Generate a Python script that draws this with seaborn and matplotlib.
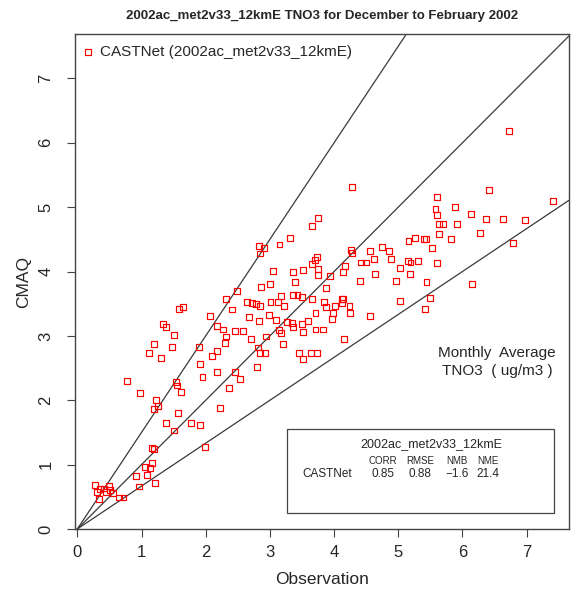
import matplotlib
matplotlib.use("Agg")
import matplotlib.pyplot as plt
import seaborn as sns
import pandas as pd
from matplotlib.patches import Rectangle

obs = [6.72, 4.28, 6.42, 7.41, 5.61, 5.58, 5.89, 5.60, 6.13, 5.64, 5.70, 5.91, 6.37, 6.63,
       6.98, 6.28, 5.64, 5.82, 6.79, 5.16, 5.26, 5.40, 5.43, 5.52, 4.74, 4.56, 4.85, 4.27,
       4.28, 4.62, 4.89, 4.42, 4.50, 5.15, 5.19, 5.31, 5.03, 5.61, 4.17, 4.14, 4.64, 5.18,
       4.40, 4.97, 5.44, 6.15, 3.93, 3.88, 5.50, 5.03, 4.12, 4.14, 3.85, 3.88, 4.02, 4.24,
       5.41, 4.13, 4.25, 3.99, 3.97, 4.56, 3.83, 4.15,
       3.75, 3.66, 3.31, 2.83, 2.91, 2.85, 3.15, 3.74, 3.70, 3.66, 3.75, 3.52, 3.05, 3.36,
       3.75, 3.39, 3.00, 2.86, 2.49, 3.36, 3.43, 3.50, 3.18, 2.31, 3.66, 2.65, 2.72, 2.78,
       2.85, 3.01, 3.12, 3.22, 1.64, 1.58, 2.41,
       2.07, 2.67, 2.83, 2.98, 3.10, 3.27, 3.34, 3.36, 3.50, 3.60, 3.71, 3.52, 3.71, 1.33,
       1.38, 1.50, 2.18, 2.27, 2.45, 2.58, 2.31, 2.30, 2.71, 3.14, 3.18, 2.94, 3.21, 1.19,
       1.48, 1.90, 1.11, 1.31, 2.17, 2.10, 2.81, 2.85, 2.92, 3.46, 3.51, 3.64, 3.73, 1.91,
       2.80, 0.77, 1.54, 1.56, 2.17, 1.95, 2.45, 2.53, 2.36, 0.97, 1.61, 1.23, 1.26, 1.19,
       2.22, 1.57, 1.38, 1.51, 1.77, 1.91, 1.99, 1.16, 1.20, 1.17, 1.06, 1.13, 1.08, 0.91,
       1.21, 0.96,
       0.28, 0.30, 0.35, 0.41, 0.45, 0.50, 0.51, 0.55, 0.34, 0.65, 0.72]
cmaq = [6.19, 5.31, 5.27, 5.10, 5.16, 4.97, 5.00, 4.88, 4.89, 4.74, 4.74, 4.74, 4.81, 4.81,
        4.80, 4.60, 4.58, 4.50, 4.45, 4.47, 4.52, 4.50, 4.51, 4.37, 4.38, 4.32, 4.32, 4.34,
        4.29, 4.20, 4.20, 4.14, 4.14, 4.16, 4.14, 4.17, 4.06, 4.13, 4.08, 3.99, 3.96, 3.96,
        3.85, 3.85, 3.84, 3.80, 3.93, 3.74, 3.59, 3.54, 3.57, 3.57, 3.53, 3.45, 3.47, 3.46,
        3.42, 3.51, 3.36, 3.36, 3.26, 3.31, 3.10, 2.95,
        4.83, 4.71, 4.52, 4.39, 4.37, 4.28, 4.42, 4.23, 4.18, 4.11, 4.04, 4.03, 4.01, 3.99,
        3.94, 3.84, 3.80, 3.76, 3.70, 3.64, 3.64, 3.60, 3.62, 3.58, 3.58, 3.53, 3.51, 3.49,
        3.47, 3.52, 3.52, 3.47, 3.45, 3.42, 3.41,
        3.31, 3.30, 3.23, 3.33, 3.25, 3.21, 3.20, 3.14, 3.18, 3.23, 3.35, 3.06, 3.10, 3.19,
        3.14, 3.01, 3.15, 3.10, 3.07, 3.07, 2.99, 2.89, 2.95, 3.09, 3.05, 2.99, 2.88, 2.87,
        2.83, 2.83, 2.73, 2.65, 2.76, 2.69, 2.82, 2.74, 2.74, 2.74, 2.64, 2.74, 2.74, 2.57,
        2.52, 2.30, 2.29, 2.23, 2.44, 2.36, 2.44, 2.33, 2.19, 2.11, 2.13, 2.01, 1.91, 1.86,
        1.88, 1.80, 1.64, 1.53, 1.64, 1.61, 1.28, 1.26, 1.24, 1.02, 0.97, 0.95, 0.84, 0.83,
        0.72, 0.66,
        0.69, 0.57, 0.62, 0.63, 0.58, 0.67, 0.61, 0.56, 0.46, 0.49, 0.49]

ratio_slopes = [1.5, 1.0, 1 / 1.5]

run_name = "2002ac_met2v33_12kmE"
network = "CASTNet"
stat_names = ["CORR", "RMSE", "NMB", "NME"]
stat_values = ["0.85", "0.88", "\u22121.6", "21.4"]

df = pd.DataFrame({"Observation": obs, "CMAQ": cmaq})

sns.set_style("ticks")
plt.rcParams["font.family"] = ["Liberation Sans", "DejaVu Sans"]

fig = plt.figure(figsize=(5.72, 5.92), dpi=100)
ax = fig.add_axes([75 / 572, 63 / 592, 494 / 572, 495 / 592])

for s in ratio_slopes:
    ax.axline((0, 0), slope=s, color="#3a3a3a", lw=0.9, zorder=1)

sns.scatterplot(data=df, x="Observation", y="CMAQ", ax=ax, marker="s", s=18,
                linewidth=0.85, label=f"{network} ({run_name})", zorder=3)
pts = ax.collections[-1]
pts.set_facecolor("none")
pts.set_edgecolor("red")
pts.set_linewidth(0.85)

ax.set_xlim(-0.036, 7.66)
ax.set_ylim(0, 7.69)
ax.set_xticks(range(8))
ax.set_yticks(range(8))
ax.tick_params(direction="out", length=5.5, width=0.8, color="#444444",
               labelsize=12, pad=6)
ax.tick_params(axis="y", pad=10)
for lab in ax.get_yticklabels():
    lab.set_rotation(90)
    lab.set_va("center")
for sp in ax.spines.values():
    sp.set_color("#444444")
    sp.set_linewidth(1.0)

ax.set_xlabel("Observation", fontsize=12.5, labelpad=9)
ax.set_ylabel("CMAQ", fontsize=12.5, labelpad=5)
ax.set_title(f"{run_name} TNO3 for December to February 2002",
             fontsize=9.5, fontweight="bold", pad=10.5)

ax.legend(loc="center left", bbox_to_anchor=(0.002, 0.9636), borderaxespad=0,
          frameon=False, fontsize=11, handlelength=0.8, handletextpad=0.4)

ax.text(6.54, 2.73, "Monthly  Average", ha="center", va="center", fontsize=11)
ax.text(6.54, 2.45, "TNO3  ( ug/m3 )", ha="center", va="center", fontsize=11)

# statistics box
ax.add_patch(Rectangle((3.27, 0.25), 4.16, 1.30, fill=False, ec="#444444", lw=0.9))
ax.text(5.52, 1.32, run_name, ha="center", va="center", fontsize=9)
stat_x = [4.76, 5.34, 5.91, 6.40]
for x, name, val in zip(stat_x, stat_names, stat_values):
    ax.text(x, 1.06, name, ha="center", va="center", fontsize=7)
    ax.text(x, 0.85, val, ha="center", va="center", fontsize=8.5)
ax.text(3.90, 0.85, network, ha="center", va="center", fontsize=8.5)

fig.savefig("out.png", dpi=100)
